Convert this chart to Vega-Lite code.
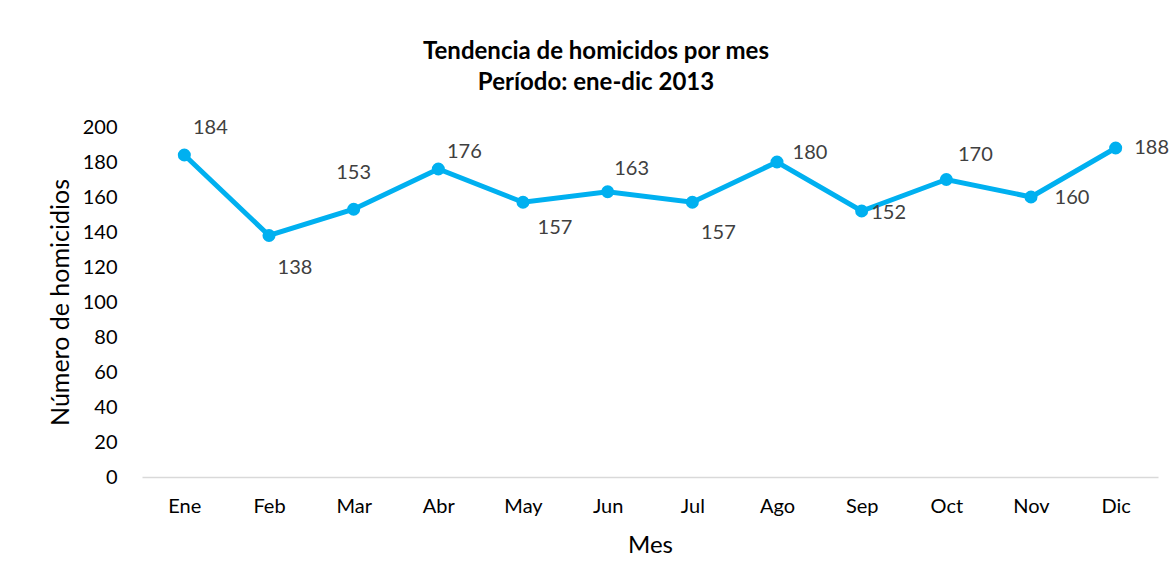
{
  "$schema": "https://vega.github.io/schema/vega-lite/v6.json",
  "width": 1016,
  "height": 350,
  "autosize": {"type": "none"},
  "padding": {"left": 142, "top": 127, "right": 16, "bottom": 108},
  "background": "white",
  "config": {
    "view": {"stroke": null},
    "font": "Lato"
  },
  "title": {
    "text": ["Tendencia de homicidos por mes", "Período: ene-dic 2013"],
    "fontSize": 24,
    "fontWeight": "bold",
    "font": "Lato",
    "color": "#000000",
    "anchor": "middle",
    "frame": "group",
    "dx": -54,
    "lineHeight": 31,
    "offset": 22
  },
  "data": {
    "values": [
      {"mes": "Ene", "homicidios": 184},
      {"mes": "Feb", "homicidios": 138},
      {"mes": "Mar", "homicidios": 153},
      {"mes": "Abr", "homicidios": 176},
      {"mes": "May", "homicidios": 157},
      {"mes": "Jun", "homicidios": 163},
      {"mes": "Jul", "homicidios": 157},
      {"mes": "Ago", "homicidios": 180},
      {"mes": "Sep", "homicidios": 152},
      {"mes": "Oct", "homicidios": 170},
      {"mes": "Nov", "homicidios": 160},
      {"mes": "Dic", "homicidios": 188}
    ]
  },
  "encoding": {
    "x": {
      "field": "mes",
      "type": "ordinal",
      "sort": null,
      "scale": {"type": "point", "padding": 0.5},
      "axis": {
        "title": "Mes",
        "titleFontSize": 24,
        "titleFontWeight": "normal",
        "titleColor": "#000000",
        "titlePadding": 17,
        "labelAngle": 0,
        "labelFontSize": 20,
        "labelColor": "#000000",
        "labelPadding": 19,
        "ticks": false,
        "grid": false,
        "domainColor": "#d9d9d9",
        "domainWidth": 1.5
      }
    },
    "y": {
      "field": "homicidios",
      "type": "quantitative",
      "scale": {"domain": [0, 200]},
      "axis": {
        "title": "Número de homicidios",
        "titleFontSize": 25,
        "titleFontWeight": "normal",
        "titleColor": "#000000",
        "titlePadding": 9,
        "values": [0, 20, 40, 60, 80, 100, 120, 140, 160, 180, 200],
        "labelFontSize": 20,
        "labelColor": "#000000",
        "labelPadding": 25,
        "ticks": false,
        "grid": false,
        "domain": false
      }
    }
  },
  "layer": [
    {"mark": {"type": "line", "color": "#00B0F0", "strokeWidth": 5}},
    {"mark": {"type": "point", "filled": true, "opacity": 1, "color": "#00B0F0", "size": 170}},
    {"transform": [{"filter": {"field": "mes", "equal": "Ene"}}], "mark": {"type": "text", "fontSize": 20, "color": "#404040", "dx": 26, "dy": -27}, "encoding": {"text": {"field": "homicidios"}}},
    {"transform": [{"filter": {"field": "mes", "equal": "Feb"}}], "mark": {"type": "text", "fontSize": 20, "color": "#404040", "dx": 26, "dy": 32}, "encoding": {"text": {"field": "homicidios"}}},
    {"transform": [{"filter": {"field": "mes", "equal": "Mar"}}], "mark": {"type": "text", "fontSize": 20, "color": "#404040", "dx": 0, "dy": -36}, "encoding": {"text": {"field": "homicidios"}}},
    {"transform": [{"filter": {"field": "mes", "equal": "Abr"}}], "mark": {"type": "text", "fontSize": 20, "color": "#404040", "dx": 26, "dy": -17}, "encoding": {"text": {"field": "homicidios"}}},
    {"transform": [{"filter": {"field": "mes", "equal": "May"}}], "mark": {"type": "text", "fontSize": 20, "color": "#404040", "dx": 32, "dy": 26}, "encoding": {"text": {"field": "homicidios"}}},
    {"transform": [{"filter": {"field": "mes", "equal": "Jun"}}], "mark": {"type": "text", "fontSize": 20, "color": "#404040", "dx": 24, "dy": -23}, "encoding": {"text": {"field": "homicidios"}}},
    {"transform": [{"filter": {"field": "mes", "equal": "Jul"}}], "mark": {"type": "text", "fontSize": 20, "color": "#404040", "dx": 26, "dy": 31}, "encoding": {"text": {"field": "homicidios"}}},
    {"transform": [{"filter": {"field": "mes", "equal": "Ago"}}], "mark": {"type": "text", "fontSize": 20, "color": "#404040", "dx": 33, "dy": -9}, "encoding": {"text": {"field": "homicidios"}}},
    {"transform": [{"filter": {"field": "mes", "equal": "Sep"}}], "mark": {"type": "text", "fontSize": 20, "color": "#404040", "dx": 27, "dy": 2}, "encoding": {"text": {"field": "homicidios"}}},
    {"transform": [{"filter": {"field": "mes", "equal": "Oct"}}], "mark": {"type": "text", "fontSize": 20, "color": "#404040", "dx": 29, "dy": -25}, "encoding": {"text": {"field": "homicidios"}}},
    {"transform": [{"filter": {"field": "mes", "equal": "Nov"}}], "mark": {"type": "text", "fontSize": 20, "color": "#404040", "dx": 41, "dy": 1}, "encoding": {"text": {"field": "homicidios"}}},
    {"transform": [{"filter": {"field": "mes", "equal": "Dic"}}], "mark": {"type": "text", "fontSize": 20, "color": "#404040", "dx": 36, "dy": 0}, "encoding": {"text": {"field": "homicidios"}}}
  ]
}
